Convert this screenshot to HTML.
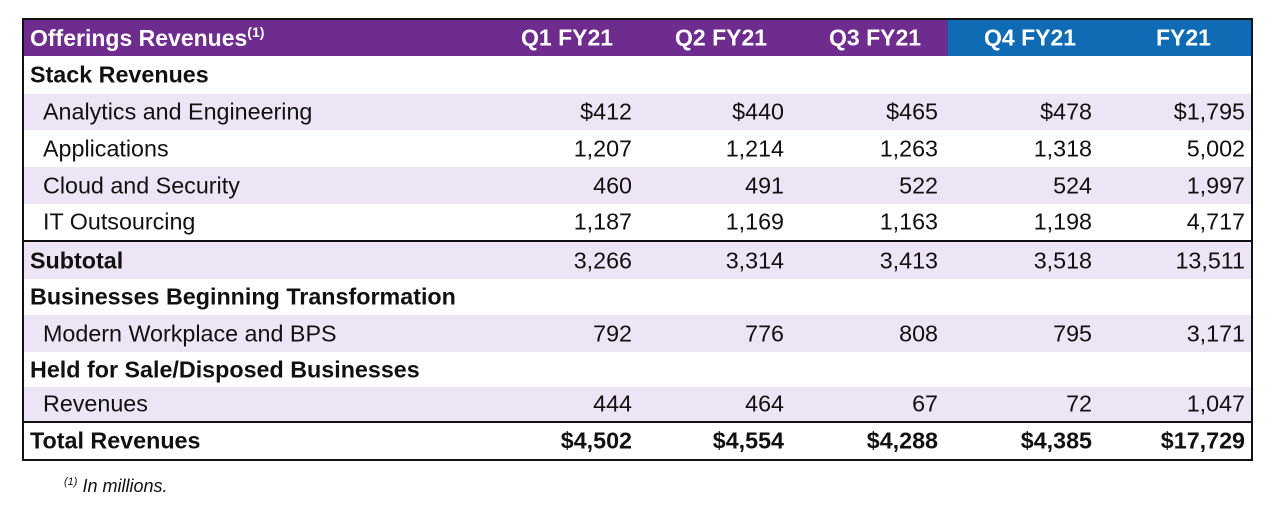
<!DOCTYPE html>
<html><head><style>
body{margin:0;width:1280px;height:511px;background:#fff;font-family:"Liberation Sans",Arial,sans-serif;position:relative;overflow:hidden}
.box{position:absolute;left:22px;top:18px;width:1227px;height:439px;border:2px solid #111;box-sizing:content-box}
.r{position:absolute;left:0;width:1227px;font-size:23.3px;color:#111}
.r span{position:absolute;top:50%;transform:translateY(-50%);white-space:nowrap}
.sh{background:#ede4f5}
.b{font-weight:bold}
.hd{color:#fff;font-weight:bold;font-size:23px}
sup{font-size:14px}
</style></head><body>
<div class="box">
<div class="r" style="top:0;height:36px;background:#6e2c8f"></div>
<div class="r" style="top:0;height:36px;left:924px;width:303px;background:#0e6bb4"></div>
<div class="r hd" style="top:0;height:36px">
<span style="left:6px">Offerings Revenues<sup>(1)</sup></span>
<span style="left:497px">Q1 FY21</span><span style="left:651px">Q2 FY21</span><span style="left:805px">Q3 FY21</span><span style="left:960px">Q4 FY21</span><span style="left:1132px">FY21</span>
</div>
<div class="r b" style="top:36px;height:38px"><span style="left:6px">Stack Revenues</span></div>
<div class="r sh" style="top:74px;height:36px"><span style="left:19px">Analytics and Engineering</span><span style="right:619px">$412</span><span style="right:467px">$440</span><span style="right:313px">$465</span><span style="right:159px">$478</span><span style="right:6px">$1,795</span></div>
<div class="r" style="top:110px;height:37px"><span style="left:19px">Applications</span><span style="right:619px">1,207</span><span style="right:467px">1,214</span><span style="right:313px">1,263</span><span style="right:159px">1,318</span><span style="right:6px">5,002</span></div>
<div class="r sh" style="top:147px;height:37px"><span style="left:19px">Cloud and Security</span><span style="right:619px">460</span><span style="right:467px">491</span><span style="right:313px">522</span><span style="right:159px">524</span><span style="right:6px">1,997</span></div>
<div class="r" style="top:184px;height:38px;border-bottom:2px solid #111;box-sizing:border-box"><span style="left:19px">IT Outsourcing</span><span style="right:619px">1,187</span><span style="right:467px">1,169</span><span style="right:313px">1,163</span><span style="right:159px">1,198</span><span style="right:6px">4,717</span></div>
<div class="r sh" style="top:222px;height:37px"><span style="left:6px" class="b">Subtotal</span><span style="right:619px">3,266</span><span style="right:467px">3,314</span><span style="right:313px">3,413</span><span style="right:159px">3,518</span><span style="right:6px">13,511</span></div>
<div class="r b" style="top:259px;height:36px"><span style="left:6px">Businesses Beginning Transformation</span></div>
<div class="r sh" style="top:295px;height:37px"><span style="left:19px">Modern Workplace and BPS</span><span style="right:619px">792</span><span style="right:467px">776</span><span style="right:313px">808</span><span style="right:159px">795</span><span style="right:6px">3,171</span></div>
<div class="r b" style="top:332px;height:35px"><span style="left:6px">Held for Sale/Disposed Businesses</span></div>
<div class="r sh" style="top:367px;height:36px;border-bottom:2px solid #111;box-sizing:border-box"><span style="left:19px">Revenues</span><span style="right:619px">444</span><span style="right:467px">464</span><span style="right:313px">67</span><span style="right:159px">72</span><span style="right:6px">1,047</span></div>
<div class="r b" style="top:403px;height:36px"><span style="left:6px">Total Revenues</span><span style="right:619px">$4,502</span><span style="right:467px">$4,554</span><span style="right:313px">$4,288</span><span style="right:159px">$4,385</span><span style="right:6px">$17,729</span></div>
</div>
<div style="position:absolute;left:64px;top:476px;font-size:18px;font-style:italic;color:#111"><sup style="font-size:11px">(1)</sup> In millions.</div>
</body></html>
